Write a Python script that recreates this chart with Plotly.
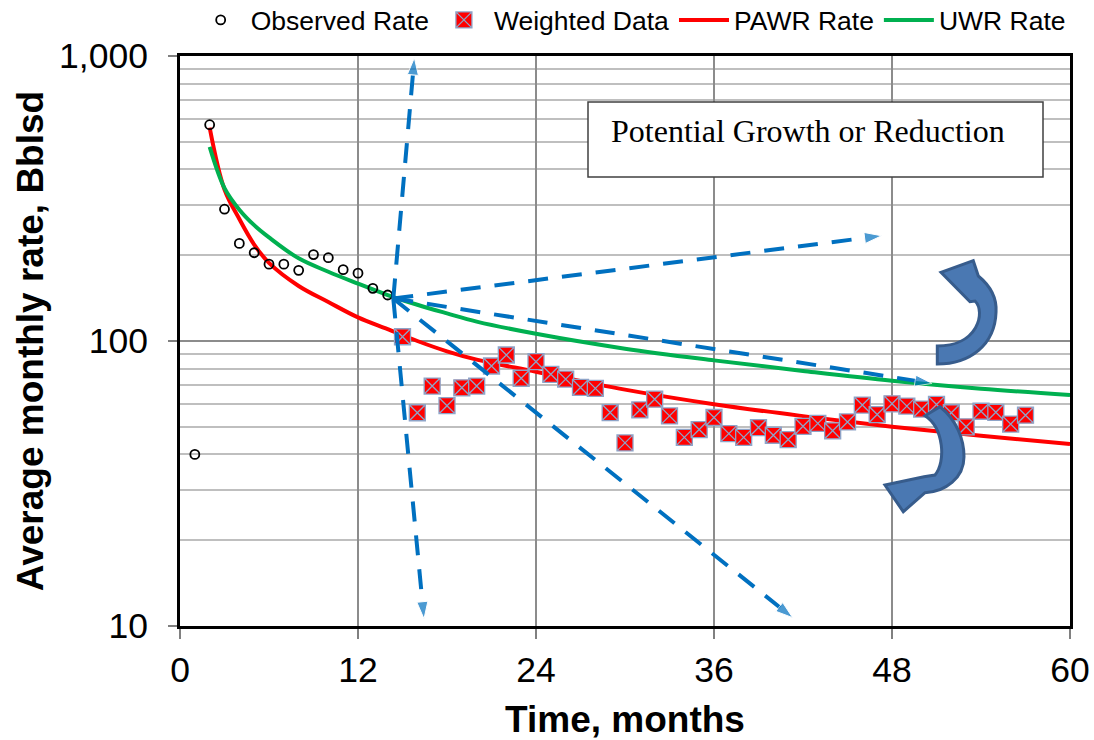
import plotly.graph_objects as go

# ---- data -----------------------------------------------------------------
months_obs = list(range(1, 15))
observed_rate = [40, 574, 290, 220, 204, 186, 186, 177, 201, 196, 178, 173, 153, 145]

months_wtd = list(range(15, 58))
weighted_rate = [103.5, 56, 69.5, 59.3, 68.5, 69.5, 81.7, 89.3, 74, 84.6,
                 76.4, 73.5, 68.7, 68.2, 56.1, 43.9, 57.3, 62.5, 54.6, 45.9,
                 48.9, 53.9, 47.3, 45.9, 49.7, 46.7, 45.1, 50.2, 51.4, 48.4,
                 52.0, 59.6, 55.2, 60.2, 59.1, 57.7, 59.9, 56.0, 50.0, 56.7,
                 56.2, 51.1, 54.9]

months_fit = [2, 3, 4, 5, 6, 8, 10, 12, 14, 16, 18, 20, 24, 30, 36, 42, 48, 54, 60]
pawr_rate = [561, 340, 268, 218, 188, 156, 137, 121, 110, 100, 92, 86, 78,
             67.5, 60, 54.5, 50, 46.5, 43.5]
uwr_rate = [480, 344, 289, 255, 231, 195, 175, 159, 145, 134, 125, 117, 106,
            94, 85.5, 78.5, 72.5, 68, 64.6]

x_ticks = [0, 12, 24, 36, 48, 60]
y_ticks = [10, 100, 1000]
y_tick_text = ["10", "100", "1,000"]
y_minor = [v * d for d in (10, 100) for v in range(2, 10)]

# projection arrows: shared origin and tip of each arrow (month, rate)
arrow_origin = (14.38, 141)
arrow_tips = [(15.8, 985), (16.45, 10.6), (47.3, 234), (50.7, 71), (41.3, 10.7)]

FONT = "Arial, Liberation Sans, sans-serif"
BLUE = "#0070C0"

fig = go.Figure()

fig.add_trace(go.Scatter(
    x=months_fit, y=pawr_rate, mode="lines", name="PAWR Rate",
    line=dict(color="#FF0000", width=4, shape="spline"), legendrank=3))
fig.add_trace(go.Scatter(
    x=months_fit, y=uwr_rate, mode="lines", name="UWR Rate",
    line=dict(color="#00B050", width=4, shape="spline"), legendrank=4))
fig.add_trace(go.Scatter(
    x=months_obs, y=observed_rate, mode="markers", name="Observed Rate",
    marker=dict(symbol="circle-open", size=9, color="black",
                line=dict(width=1.8, color="black")), legendrank=1))
fig.add_trace(go.Scatter(
    x=months_wtd, y=weighted_rate, mode="markers", name="Weighted Data",
    marker=dict(symbol="square-x", size=16, color="#FF0000",
                line=dict(width=1.3, color="#8EA4C8")), legendrank=2))

for tx, ty in arrow_tips:
    fig.add_trace(go.Scatter(
        x=[arrow_origin[0], tx], y=[arrow_origin[1], ty],
        mode="lines+markers", showlegend=False, hoverinfo="skip",
        line=dict(color=BLUE, width=4, dash="20px,14px"),
        marker=dict(symbol="arrow", size=[0, 18], angleref="previous",
                    color=BLUE)))


# ---- curved "growth / reduction" arrows, outlined in pixels ---------------
def to_paper(x, y):
    return f"{(x - 180) / 890:.4f},{(626 - y) / 570:.4f}"


def build_path(commands):
    parts = []
    for cmd, *pts in commands:
        parts.append(cmd + " " + " ".join(to_paper(x, y) for x, y in pts))
    return " ".join(parts) + " Z"


upper_arrow = [
    ("M", (937.3, 364)),
    ("C", (970, 364), (995, 345), (996, 312)),
    ("C", (997, 296), (988, 284), (978.3, 276)),
    ("L", (973.3, 260.7)),
    ("L", (941, 272.3)),
    ("L", (970, 301.7)),
    ("L", (975, 301)),
    ("C", (986, 312), (978, 346), (937.3, 346)),
]
lower_arrow = [
    ("M", (925, 415.7)),
    ("L", (940, 406.7)),
    ("C", (957, 420), (964, 440), (964, 456.7)),
    ("C", (964, 478), (945, 492), (925, 492.7)),
    ("L", (903.3, 511.7)),
    ("L", (885, 485)),
    ("L", (924, 476.7)),
    ("L", (935, 475)),
    ("C", (946, 462), (944, 428), (925, 415.7)),
]

shapes = []
for cmds in (upper_arrow, lower_arrow):
    shapes.append(dict(type="path", path=build_path(cmds), xref="paper", yref="paper",
                       fillcolor="#4A78B2", line=dict(color="#375C8C", width=3),
                       layer="above"))

# text box
shapes.append(dict(type="rect", xref="paper", yref="paper",
                   x0=(588 - 180) / 890, x1=(1043 - 180) / 890,
                   y0=(626 - 177) / 570, y1=(626 - 102) / 570,
                   fillcolor="white", line=dict(color="#404040", width=1.5),
                   layer="above"))

fig.update_layout(
    width=1094, height=740,
    margin=dict(l=180, r=24, t=56, b=114, autoexpand=False),
    paper_bgcolor="white", plot_bgcolor="white",
    font=dict(family=FONT, color="black"),
    shapes=shapes,
    annotations=[dict(
        text="Potential Growth or Reduction", xref="paper", yref="paper",
        x=(609 - 180) / 890, y=(626 - 131) / 570, xanchor="left", yanchor="middle",
        showarrow=False,
        font=dict(family="Times New Roman, Liberation Serif, serif", size=32,
                  color="black"))],
    legend=dict(orientation="h", x=0.012, y=1.105, xanchor="left", yanchor="top",
                font=dict(size=26.5, family=FONT), itemwidth=50,
                bgcolor="rgba(0,0,0,0)", tracegroupgap=0),
    showlegend=True,
)

fig.update_xaxes(
    range=[0, 60], tickvals=x_ticks, ticks="outside", ticklen=10,
    tickcolor="#808080", tickwidth=1.5,
    tickfont=dict(size=35.5, family=FONT),
    showgrid=True, gridcolor="#8C8C8C", gridwidth=1.5,
    showline=True, linecolor="black", linewidth=3, mirror=True,
    zeroline=False,
    title=dict(text="Time, months", font=dict(size=37, family=FONT, weight="bold"),
               standoff=20),
)

fig.update_yaxes(
    type="log", range=[1, 3], tickvals=y_ticks, ticktext=y_tick_text,
    ticks="outside", ticklen=9, tickcolor="#808080", tickwidth=1.5,
    ticklabelstandoff=13,
    tickfont=dict(size=35.5, family=FONT),
    showgrid=True, gridcolor="#8C8C8C", gridwidth=1.5,
    minor=dict(tickvals=y_minor, showgrid=True, gridcolor="#BFBFBF",
               gridwidth=1.5, ticks=""),
    showline=True, linecolor="black", linewidth=3, mirror=True,
    zeroline=False,
    title=dict(text="Average monthly rate, Bblsd",
               font=dict(size=37, family=FONT, weight="bold"), standoff=5),
)

fig.write_html("out.html")
